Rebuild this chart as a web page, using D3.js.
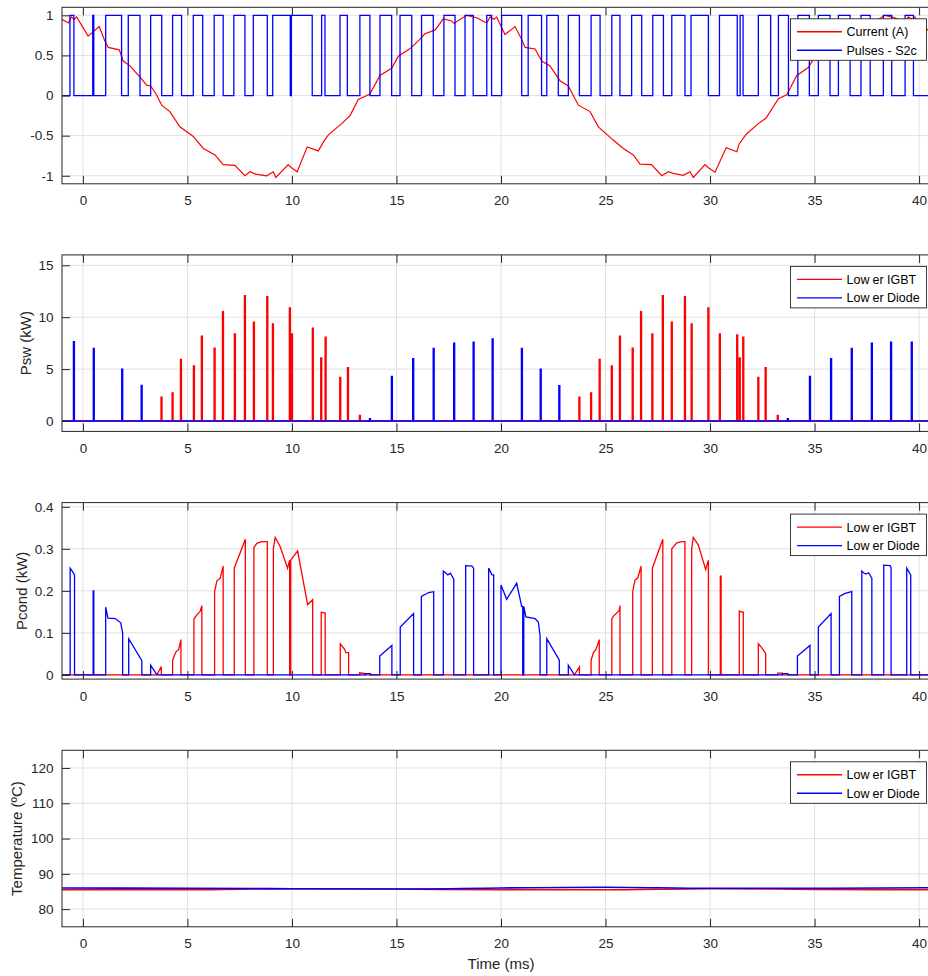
<!DOCTYPE html>
<html>
<head>
<meta charset="utf-8">
<script src="https://cdn.jsdelivr.net/npm/d3@7"></script>
<style>
  body { margin: 0; background: #fff; }
  svg { display: block; font-family: "Liberation Sans", Arial, Helvetica, sans-serif; }
</style>
</head>
<body>
<script>
// ---- data (time in ms) ----

// phase current, per unit
let currentT = [-1.0, -0.7, -0.54, -0.43, -0.3, 0.25, 0.78, 1.05, 1.21, 1.74, 1.93, 2.25, 2.73, 3.05, 3.24, 3.5, 3.77, 4.16, 4.64, 5.28, 5.76, 6.32, 6.71, 7.27, 7.75, 7.99, 8.26, 8.79, 9.11, 9.23, 9.82, 9.98, 10.25, 10.73, 11.26, 11.5, 11.74, 12.38, 12.78, 13.17, 13.73, 14.21, 14.77, 15.09, 15.65, 16.12, 16.36, 16.84, 17.24, 17.64, 17.75, 18.36, 18.84, 19.32, 19.48, 19.67, 19.79, 20.19, 20.67, 20.99, 21.15, 21.63, 21.95, 22.34, 22.82, 23.22, 23.7, 24.26, 24.66, 25.37, 25.85, 26.33, 26.65, 27.2, 27.69, 28.0, 28.24, 28.72, 29.04, 29.2, 29.76, 29.92, 30.24, 30.77, 31.28, 31.4, 31.72, 32.31, 32.68, 33.27, 33.67, 34.15, 34.7, 34.94, 35.1, 35.65, 36.1, 36.36, 36.84, 37.24, 37.64, 37.75, 38.36, 38.84, 39.32, 39.48, 39.67, 39.8, 40.2, 40.6]
let currentV = [0.95, 0.905, 0.98, 0.95, 0.98, 0.74, 0.86, 0.68, 0.6, 0.57, 0.43, 0.37, 0.23, 0.13, 0.12, 0.02, -0.12, -0.2, -0.39, -0.51, -0.66, -0.74, -0.86, -0.87, -1.0, -0.95, -0.98, -1.0, -0.95, -1.02, -0.86, -0.9, -0.95, -0.64, -0.69, -0.58, -0.49, -0.35, -0.25, -0.05, 0.02, 0.25, 0.34, 0.49, 0.585, 0.7, 0.77, 0.815, 0.955, 0.93, 0.9, 1.0, 0.97, 0.905, 0.98, 0.95, 0.98, 0.76, 0.86, 0.7, 0.6, 0.58, 0.43, 0.37, 0.185, 0.12, -0.12, -0.2, -0.39, -0.555, -0.66, -0.74, -0.855, -0.86, -1.0, -0.95, -0.97, -0.995, -0.95, -1.02, -0.86, -0.9, -0.955, -0.65, -0.7, -0.6, -0.485, -0.35, -0.28, -0.04, 0.01, 0.25, 0.35, 0.45, 0.49, 0.6, 0.7, 0.77, 0.82, 0.95, 0.93, 0.9, 1.0, 0.97, 0.9, 0.98, 0.95, 0.98, 0.78, 0.86]

// gate pulses S2c: on intervals [start, end]
let pulseOn = [[-0.62, -0.43], [0.47, 0.52], [1.09, 1.85], [2.17, 2.73], [3.24, 3.77], [4.29, 4.72], [5.28, 5.73], [6.28, 6.71], [7.22, 7.75], [8.15, 8.82], [9.08, 9.92], [9.97, 10.97], [11.42, 11.58], [12.3, 12.65], [13.25, 13.73], [14.21, 14.77], [15.17, 15.73], [16.2, 16.76], [17.27, 17.8], [18.28, 18.67], [19.32, 19.55], [20.03, 20.99], [21.3, 21.94], [22.19, 22.74], [23.22, 23.75], [24.31, 24.74], [25.3, 25.69], [26.25, 26.73], [27.26, 27.77], [28.17, 28.8], [29.09, 29.92], [30.45, 31.3], [31.44, 31.58], [32.31, 32.9], [33.27, 33.75], [34.2, 34.75], [35.18, 35.74], [36.14, 36.7], [37.22, 37.66], [38.29, 38.69], [39.33, 39.73]]

// switching losses (kW)
let swIgbtT = [3.76, 4.29, 4.69, 5.31, 5.69, 6.3, 6.7, 7.27, 7.75, 8.18, 8.82, 9.09, 9.9, 10.0, 11.0, 11.4, 11.61, 12.31, 12.68, 13.25, 23.75, 24.31, 24.72, 25.3, 25.69, 26.3, 26.7, 27.24, 27.74, 28.17, 28.8, 29.12, 29.92, 30.47, 31.3, 31.42, 31.59, 32.31, 32.66, 33.24]
let swIgbtV = [2.3, 2.7, 5.93, 5.32, 8.17, 7.02, 10.54, 8.4, 12.08, 9.52, 11.99, 9.36, 10.9, 8.4, 8.94, 6.09, 8.08, 4.2, 5.13, 0.54, 2.3, 2.7, 5.93, 5.32, 8.17, 7.02, 10.54, 8.4, 12.08, 9.52, 11.99, 9.36, 10.9, 8.4, 8.3, 6.09, 8.08, 4.2, 5.13, 0.54]
let swDiodeT = [-0.43, 0.52, 1.88, 2.81, 13.73, 14.78, 15.8, 16.78, 17.76, 18.69, 19.6, 21.0, 21.9, 22.79, 33.72, 34.78, 35.79, 36.78, 37.74, 38.66, 39.65]
let swDiodeV = [7.65, 7.0, 5.0, 3.43, 0.22, 4.3, 6.0, 7.0, 7.5, 7.6, 7.9, 7.0, 5.0, 3.4, 0.22, 4.3, 6.0, 7.0, 7.5, 7.6, 7.6]

// conduction losses (kW): each block is a list of [t, value] while conducting
let condIgbt = [
    [[3.54, 0.0], [3.75, 0.02]],
    [[4.29, 0.035], [4.45, 0.055], [4.58, 0.06], [4.69, 0.084]],
    [[5.31, 0.133], [5.45, 0.143], [5.61, 0.151], [5.69, 0.165]],
    [[6.3, 0.198], [6.41, 0.224], [6.57, 0.23], [6.71, 0.259]],
    [[7.24, 0.254], [7.77, 0.323]],
    [[8.18, 0.303], [8.32, 0.313], [8.56, 0.317], [8.82, 0.317]],
    [[9.11, 0.3], [9.2, 0.327], [9.44, 0.305], [9.79, 0.254], [9.89, 0.273]],
    [[9.94, 0.273], [10.27, 0.295], [10.75, 0.167], [10.99, 0.179]],
    [[11.4, 0.149], [11.59, 0.147]],
    [[12.31, 0.074], [12.52, 0.061], [12.58, 0.053], [12.71, 0.053]],
    [[13.24, 0.005], [13.51, 0.003]],
    [[23.51, 0.0], [23.75, 0.019]],
    [[24.31, 0.035], [24.42, 0.053], [24.55, 0.061], [24.7, 0.084]],
    [[25.3, 0.133], [25.38, 0.14], [25.65, 0.153], [25.69, 0.165]],
    [[26.3, 0.198], [26.41, 0.226], [26.54, 0.23], [26.7, 0.259]],
    [[27.24, 0.254], [27.74, 0.323]],
    [[28.17, 0.3], [28.41, 0.314], [28.65, 0.317], [28.8, 0.317]],
    [[29.12, 0.3], [29.2, 0.327], [29.44, 0.309], [29.79, 0.251], [29.92, 0.273]],
    [[30.49, 0.235], [30.53, 0.235]],
    [[31.4, 0.152], [31.59, 0.149]],
    [[32.31, 0.074], [32.47, 0.065], [32.66, 0.051]],
    [[33.24, 0.004], [33.46, 0.004]]
]
let condDiode = [
    [[-0.61, 0.254], [-0.55, 0.25], [-0.4, 0.238]],
    [[0.49, 0.2], [0.52, 0.2]],
    [[1.09, 0.161], [1.2, 0.135], [1.55, 0.134], [1.81, 0.124], [1.9, 0.1]],
    [[2.19, 0.086], [2.82, 0.034]],
    [[3.24, 0.023], [3.54, 0.0]],
    [[13.51, 0.003], [13.75, 0.003]],
    [[14.2, 0.045], [14.78, 0.07]],
    [[15.18, 0.114], [15.82, 0.146]],
    [[16.19, 0.187], [16.54, 0.196], [16.78, 0.198]],
    [[17.24, 0.247], [17.34, 0.243], [17.46, 0.238], [17.58, 0.242], [17.74, 0.228]],
    [[18.31, 0.26], [18.61, 0.259], [18.69, 0.254]],
    [[19.41, 0.254], [19.57, 0.238], [19.65, 0.238]],
    [[20.0, 0.214], [20.27, 0.18], [20.75, 0.218], [20.99, 0.163], [21.04, 0.163]],
    [[21.09, 0.163], [21.19, 0.138], [21.63, 0.134], [21.79, 0.125], [21.87, 0.092]],
    [[22.19, 0.086], [22.79, 0.035]],
    [[23.22, 0.023], [23.51, 0.0]],
    [[33.46, 0.003], [33.72, 0.003]],
    [[34.18, 0.045], [34.78, 0.07]],
    [[35.18, 0.114], [35.79, 0.146]],
    [[36.19, 0.187], [36.46, 0.194], [36.78, 0.198]],
    [[37.26, 0.247], [37.34, 0.243], [37.45, 0.24], [37.58, 0.243], [37.74, 0.23]],
    [[38.31, 0.261], [38.61, 0.26], [38.66, 0.255]],
    [[39.41, 0.254], [39.6, 0.238]]
]

// junction temperatures (degC)
let tempT = [-1, 5, 10, 15, 20, 25, 30, 35, 41]
let tempIgbt = [85.5, 85.5, 85.8, 85.7, 85.5, 85.5, 85.8, 85.6, 85.5]
let tempDiode = [86.0, 85.9, 85.8, 85.7, 86.0, 86.2, 85.9, 85.9, 86.1]

// ticks
let xTicks = [0, 5, 10, 15, 20, 25, 30, 35, 40]
let yTicks1 = [-1, -0.5, 0, 0.5, 1]
let yTickLabels1 = ["-1", "-0.5", "0", "0.5", "1"]
let yTicks2 = [0, 5, 10, 15]
let yTicks3 = [0, 0.1, 0.2, 0.3, 0.4]
let yTicks4 = [80, 90, 100, 110, 120]

// ---- layout ----
let width = 928
let height = 976
let left = 62
let right = 940
let panelH = 176.5
let axisColor = "#262626"
let gridColor = "#e1e1e1"

let x = d3.scaleLinear().domain([-1, 41]).range([left, right])

const svg = d3.select("body").append("svg")
    .attr("width", width)
    .attr("height", height)
    .attr("viewBox", [0, 0, width, height])

let line = y => d3.line().x(d => x(d[0])).y(d => y(d[1]))

// builds one axes box with grid, ticks, labels, optional legend
function panel(idx, top, domain, ticks, tickLabels, ylabel, ylabelX) {
    let y = d3.scaleLinear().domain(domain).range([top + panelH, top])
    let g = svg.append("g")

    g.append("clipPath").attr("id", "clip" + idx)
        .append("rect")
        .attr("x", left).attr("y", top)
        .attr("width", right - left).attr("height", panelH)

    // grid
    g.append("g")
        .selectAll("line")
        .data(xTicks)
        .join("line")
        .attr("x1", d => x(d)).attr("x2", d => x(d))
        .attr("y1", top).attr("y2", top + panelH)
        .attr("stroke", gridColor)
    g.append("g")
        .selectAll("line")
        .data(ticks)
        .join("line")
        .attr("x1", left).attr("x2", right)
        .attr("y1", d => y(d)).attr("y2", d => y(d))
        .attr("stroke", gridColor)

    let plot = g.append("g").attr("clip-path", `url(#clip${idx})`)

    let axes = svg.append("g")
        .attr("font-size", 13.5)
        .attr("fill", axisColor)

    let fmt = tickLabels ? (d, i) => tickLabels[i] : d => d
    axes.append("g")
        .attr("transform", `translate(0,${top + panelH})`)
        .call(d3.axisBottom(x).tickValues(xTicks).tickSize(-8).tickPadding(12))
        .call(a => a.select(".domain").remove())
    axes.append("g")
        .attr("transform", `translate(0,${top})`)
        .call(d3.axisTop(x).tickValues(xTicks).tickSize(-8).tickFormat(""))
        .call(a => a.select(".domain").remove())
    axes.append("g")
        .attr("transform", `translate(${left},0)`)
        .call(d3.axisLeft(y).tickValues(ticks).tickFormat(fmt).tickSize(-8).tickPadding(8.5))
        .call(a => a.select(".domain").remove())
    axes.append("g")
        .attr("transform", `translate(${right},0)`)
        .call(d3.axisRight(y).tickValues(ticks).tickSize(-8).tickFormat(""))
        .call(a => a.select(".domain").remove())
    axes.selectAll(".tick line").attr("stroke", axisColor)
    axes.selectAll(".tick text")
        .attr("fill", axisColor)
        .attr("font-family", "'Liberation Sans', Arial, sans-serif")
        .attr("font-size", 13.5)

    axes.append("rect")
        .attr("x", left).attr("y", top)
        .attr("width", right - left).attr("height", panelH)
        .attr("fill", "none")
        .attr("stroke", axisColor)
        .attr("stroke-width", 1)

    if (ylabel) {
        axes.append("text")
            .attr("transform", `translate(${ylabelX},${top + panelH / 2}) rotate(-90)`)
            .attr("text-anchor", "middle")
            .attr("font-size", 15)
            .attr("fill", axisColor)
            .text(ylabel)
    }
    return { y, plot, axes, top }
}

function legend(p, items) {
    let lg = p.axes.append("g").attr("transform", `translate(790.5,${p.top + 11.5})`)
    lg.append("rect")
        .attr("width", 136).attr("height", 41.5)
        .attr("fill", "#fff")
        .attr("stroke", axisColor)
        .attr("stroke-width", 0.9)
    items.forEach((it, i) => {
        let ry = 13 + i * 18.5
        lg.append("line")
            .attr("x1", 6.5).attr("x2", 51.5)
            .attr("y1", ry).attr("y2", ry)
            .attr("stroke", it.color).attr("stroke-width", 1.4)
        let t = lg.append("text")
            .attr("x", 56).attr("y", ry).attr("dy", "0.36em")
            .attr("font-size", 12.5)
            .attr("fill", "#000")
        if (it.split) {
            t.append("tspan").text(it.split[0])
            t.append("tspan").attr("dx", 3).text(it.split[1])
        } else {
            t.text(it.label)
        }
    })
}

// helpers turning the read data into drawable point lists
function pulsePoints(on) {
    let pts = [[-1, 0]]
    on.forEach(([s, e]) => pts.push([s, 0], [s, 1], [e, 1], [e, 0]))
    pts.push([41, 0])
    return pts
}
function spikePoints(ts, vs) {
    let pts = [[-1, 0]]
    ts.forEach((t, i) => pts.push([t - 0.025, 0], [t - 0.025, vs[i]], [t + 0.025, vs[i]], [t + 0.025, 0]))
    pts.push([41, 0])
    return pts
}
function blockPoints(blocks) {
    let pts = [[-1, 0]]
    blocks.forEach(b => {
        pts.push([b[0][0], 0], ...b, [b[b.length - 1][0], 0])
    })
    pts.push([41, 0])
    return pts
}

let tops = [7.3, 254.9, 502.6, 750.3]

// panel 1: current and pulses
let p1 = panel(1, tops[0], [-1.1, 1.1], yTicks1, yTickLabels1, null, 0)
p1.plot.append("path")
    .datum(currentT.map((t, i) => [t, currentV[i]]))
    .attr("d", line(p1.y))
    .attr("fill", "none").attr("stroke", "#ff0000").attr("stroke-width", 1.2)
p1.plot.append("path")
    .datum(pulsePoints(pulseOn))
    .attr("d", line(p1.y))
    .attr("fill", "none").attr("stroke", "#0000ff").attr("stroke-width", 1.3)
legend(p1, [
    { label: "Current (A)", color: "#ff0000" },
    { label: "Pulses - S2c", color: "#0000ff" }
])

// panel 2: switching losses
let p2 = panel(2, tops[1], [-1, 16], yTicks2, null, "Psw (kW)", 31)
p2.plot.append("path")
    .datum(spikePoints(swIgbtT, swIgbtV))
    .attr("d", line(p2.y))
    .attr("fill", "none").attr("stroke", "#ff0000").attr("stroke-width", 1.3)
p2.plot.append("path")
    .datum(spikePoints(swDiodeT, swDiodeV))
    .attr("d", line(p2.y))
    .attr("fill", "none").attr("stroke", "#0000ff").attr("stroke-width", 1.3)
let lowerItems = [
    { split: ["Low", "er IGBT"], color: "#ff0000" },
    { split: ["Low", "er Diode"], color: "#0000ff" }
]
legend(p2, lowerItems)

// panel 3: conduction losses
let p3 = panel(3, tops[2], [-0.01, 0.41], yTicks3, null, "Pcond (kW)", 27)
p3.plot.append("path")
    .datum(blockPoints(condIgbt))
    .attr("d", line(p3.y))
    .attr("fill", "none").attr("stroke", "#ff0000").attr("stroke-width", 1.3)
p3.plot.append("path")
    .datum(blockPoints(condDiode))
    .attr("d", line(p3.y))
    .attr("fill", "none").attr("stroke", "#0000ff").attr("stroke-width", 1.3)
legend(p3, lowerItems)

// panel 4: temperatures
let p4 = panel(4, tops[3], [75, 125], yTicks4, null, "Temperature (ºC)", 21.5)
let tLine = d3.line().curve(d3.curveMonotoneX).x(d => x(d[0])).y(d => p4.y(d[1]))
p4.plot.append("path")
    .datum(tempT.map((t, i) => [t, tempIgbt[i]]))
    .attr("d", tLine)
    .attr("fill", "none").attr("stroke", "#ff0000").attr("stroke-width", 1.6)
p4.plot.append("path")
    .datum(tempT.map((t, i) => [t, tempDiode[i]]))
    .attr("d", tLine)
    .attr("fill", "none").attr("stroke", "#0000ff").attr("stroke-width", 1.6)
legend(p4, lowerItems)

svg.append("text")
    .attr("x", (left + right) / 2)
    .attr("y", 969)
    .attr("text-anchor", "middle")
    .attr("font-size", 15)
    .attr("fill", axisColor)
    .text("Time (ms)")
</script>
</body>
</html>
